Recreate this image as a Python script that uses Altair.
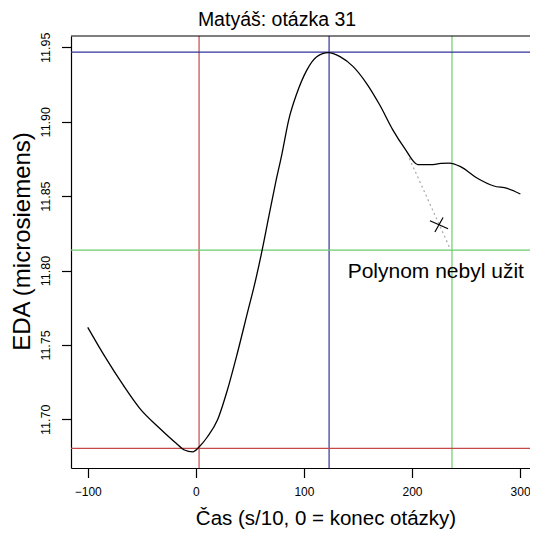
import altair as alt
import pandas as pd

FONT = "Liberation Sans"

# EDA curve
time = [-100, -84.1, -67.3, -51.9, -33.5, -18.2, -10.6, -2.9, 3.2, 10.8, 20.0, 29.2,
        38.4, 47.6, 55.3, 61.4, 67.5, 73.7, 79.8, 85.9, 93.5, 102.7, 111.9, 122.7,
        133.4, 145.6, 157.9, 170.2, 182.4, 193.1, 205.4, 217.3, 226.8, 234.5, 244.9,
        260.5, 275.8, 288.1, 300.3]
eda = [11.7618, 11.7421, 11.7231, 11.7074, 11.6940, 11.6839, 11.6794, 11.6782,
       11.6816, 11.6883, 11.6995, 11.7197, 11.7444, 11.7712, 11.7936, 11.8138,
       11.8362, 11.8586, 11.8788, 11.9011, 11.9191, 11.9347, 11.9437, 11.9464,
       11.9437, 11.9370, 11.9258, 11.9112, 11.8944, 11.8823, 11.8712, 11.8711,
       11.8720, 11.8722, 11.8698, 11.8620, 11.8568, 11.8552, 11.8514]

# dotted polynomial (not used)
poly_time = [197.5, 216.0, 234.5]
poly_eda = [11.8754, 11.8457, 11.8160]

# cross marker
mark_time = [225.0]
mark_eda = [11.8308]

# reference lines
vline_time = [3.0, 123.3, 237.0]
vline_color = ["#c44848", "#32329c", "#6ccc6c"]
hline_eda = [11.6805, 11.9468, 11.8137]
hline_color = ["#c44848", "#32329c", "#6ccc6c"]

# annotation
note_text = ["Polynom nebyl užit"]
note_time = [222.0]
note_eda = [11.7992]

x_ticks = [-100, 0, 100, 200, 300]
y_ticks = [11.70, 11.75, 11.80, 11.85, 11.90, 11.95]
X_DOMAIN = [-115.5, 309.2]
Y_DOMAIN = [11.6673, 11.9576]

curve_df = pd.DataFrame({"t": time, "eda": eda})
poly_df = pd.DataFrame({"t": poly_time, "eda": poly_eda})
mark_df = pd.DataFrame({"t": mark_time, "eda": mark_eda})
vl_df = pd.DataFrame({"t": vline_time, "c": vline_color})
hl_df = pd.DataFrame({"eda": hline_eda, "c": hline_color})
note_df = pd.DataFrame({"t": note_time, "eda": note_eda, "label": note_text})
top_df = pd.DataFrame({"eda": [Y_DOMAIN[1]]})

xs = alt.Scale(domain=X_DOMAIN, nice=False, zero=False)
ys = alt.Scale(domain=Y_DOMAIN, nice=False, zero=False)

x_axis = alt.Axis(values=x_ticks, title="Čas (s/10, 0 = konec otázky)",
                  tickSize=9.5, labelPadding=9, labelFontSize=12,
                  titleFontSize=20.5, titleX=254.5, titleY=50,
                  titleBaseline="middle", titleAlign="center")
y_axis = alt.Axis(values=y_ticks, format=".2f", title="EDA (microsiemens)",
                  tickSize=9.5, labelPadding=8.8, labelFontSize=12.5,
                  labelAngle=270, labelAlign="center", labelBaseline="bottom",
                  titleFontSize=24, titleX=-48.5, titleY=205, titleAngle=270,
                  titleBaseline="middle", titleAlign="center")

base_x = alt.X("t:Q", scale=xs, axis=x_axis)
base_y = alt.Y("eda:Q", scale=ys, axis=y_axis)

vlines = alt.Chart(vl_df).mark_rule(strokeWidth=1.2).encode(
    x=alt.X("t:Q", scale=xs, axis=x_axis),
    color=alt.Color("c:N", scale=None))
hlines = alt.Chart(hl_df).mark_rule(strokeWidth=1.2).encode(
    y=alt.Y("eda:Q", scale=ys, axis=y_axis),
    color=alt.Color("c:N", scale=None))
top_border = alt.Chart(top_df).mark_rule(color="black", strokeWidth=1.2).encode(
    y=alt.Y("eda:Q", scale=ys, axis=y_axis))

poly = alt.Chart(poly_df).mark_line(color="#a8a8a8", strokeWidth=1.2,
                                    strokeDash=[2, 3]).encode(x=base_x, y=base_y)
curve = alt.Chart(curve_df).mark_line(color="black", strokeWidth=1.3,
                                      interpolate="monotone").encode(x=base_x, y=base_y)
cross = alt.Chart(mark_df).mark_point(
    shape="M-1,-0.44L1,0.44M0.45,-0.8L-0.45,0.8", size=330,
    stroke="black", strokeWidth=1.2, filled=False, opacity=1).encode(x=base_x, y=base_y)
note = alt.Chart(note_df).mark_text(font=FONT, fontSize=21, align="center",
                                    baseline="middle", color="black").encode(
    x=base_x, y=base_y, text="label:N")

chart = alt.layer(vlines, hlines, poly, curve, cross, note, top_border).properties(
    width=459, height=432,
    padding={"left": 63, "top": 28, "right": 0, "bottom": 61},
    autosize=alt.AutoSizeParams(type="none"),
    title=alt.TitleParams("Matyáš: otázka 31", font=FONT, fontSize=19.5,
                          fontWeight="normal", color="black", dx=-23.5,
                          offset=1.5, frame="group"),
    background="white",
).configure_view(stroke=None).configure_axis(
    grid=False, domainColor="black", domainWidth=1.2, tickColor="black",
    tickWidth=1.2, labelColor="black", titleColor="black",
    labelFont=FONT, titleFont=FONT, titleFontWeight="normal")

chart.save("out.html", embed_options={"renderer": "svg", "actions": False})
